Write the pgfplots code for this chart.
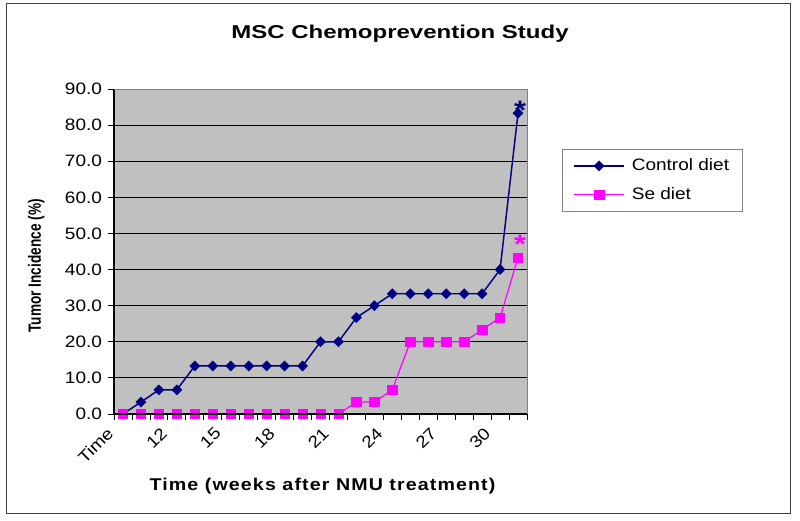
\documentclass[border=0pt]{standalone}
\usepackage{fontspec}
\setmainfont{Liberation Sans}[FakeStretch=1.15]
\newfontfamily\titlefont{Liberation Sans}[FakeStretch=1.29]
\newfontfamily\xlabfont{Liberation Sans}[FakeStretch=1.15,LetterSpace=6.5]
\newfontfamily\ylabfont{Liberation Sans}[FakeStretch=0.77]
\usepackage{pgfplots}
\pgfplotsset{compat=1.18}
\definecolor{navy}{RGB}{0,0,128}
\definecolor{se}{RGB}{255,0,255}
\definecolor{plotbg}{RGB}{192,192,192}
\definecolor{frame}{RGB}{128,128,128}

% n = 30 animals per group, index 0 = "Time", 1 = week 10 ... 22 = week 31
\pgfplotstableread{
i control se
0  0.0  0.0
1  3.3  0.0
2  6.7  0.0
3  6.7  0.0
4  13.3 0.0
5  13.3 0.0
6  13.3 0.0
7  13.3 0.0
8  13.3 0.0
9  13.3 0.0
10 13.3 0.0
11 20.0 0.0
12 20.0 0.0
13 26.7 3.3
14 30.0 3.3
15 33.3 6.7
16 33.3 20.0
17 33.3 20.0
18 33.3 20.0
19 33.3 20.0
20 33.3 23.3
21 40.0 26.7
22 83.3 43.3
}\incidence

\begin{document}
\begin{tikzpicture}
\useasboundingbox (0,0) rectangle (600pt,390.75pt);
\fill[white] (0,0) rectangle (600pt,390.75pt);
\draw[black!75, line width=0.75pt] (4.5pt,5.25pt) rectangle (592.5pt,387.75pt);
\begin{axis}[at={(85.5pt,80.25pt)}, anchor=south west,
  scale only axis, width=309.75pt, height=243.75pt,
  xmin=-0.5, xmax=22.5, ymin=0, ymax=90, clip=false,
  axis background/.style={fill=plotbg},
  axis line style={draw=frame, line width=0.75pt},
  ymajorgrids, major grid style={black, line width=0.6pt},
  ytick={0,10,...,90},
  xtick={-0.5,0.5,...,22.5}, xticklabels={},
  extra x ticks={0,3,6,9,12,15,18,21},
  extra x tick labels={Time,12,15,18,21,24,27,30},
  extra x tick style={major tick length=0pt, xmajorgrids=false,
    xticklabel style={anchor=east, rotate=45, xshift=-12pt, yshift=-2pt}},
  tick align=outside, xtick pos=left, ytick pos=left,
  major tick length=4.5pt,
  tick style={black, line width=0.6pt},
  ticklabel style={font=\fontsize{12.4}{14}\selectfont},
  /pgf/number format/fixed, /pgf/number format/fixed zerofill,
  /pgf/number format/precision=1, /pgf/number format/assume math mode=true,
  yticklabel style={xshift=-1pt},
  legend style={at={(1.085,0.8145)}, anchor=north west, draw=frame, fill=white,
    font=\fontsize{12.4}{14}\selectfont, row sep=7pt,
    inner xsep=8pt, inner ysep=5pt, cells={anchor=west},
    /tikz/every odd column/.append style={column sep=3pt}},
  legend image code/.code={\draw[mark repeat=2,mark phase=2,#1] plot coordinates {(0pt,0pt) (19pt,0pt) (38pt,0pt)};},
]
\addplot[navy, line width=1.1pt, mark=diamond*, mark size=3.75pt,
  mark options={xscale=1.33, solid, fill=navy, line width=0.4pt}]
  table[x=i, y=control] {\incidence};
\addlegendentry{Control diet}
\addplot[se, line width=0.9pt, mark=square*, mark size=3.5pt,
  mark options={solid, fill=se, line width=0.4pt}]
  table[x=i, y=se] {\incidence};
\addlegendentry{Se diet}
\node[navy, anchor=base, font=\fontsize{20}{20}\selectfont\bfseries, xshift=1.5pt, yshift=-4.5pt] at (axis cs:22,83.3) {*};
\node[se, anchor=base, font=\fontsize{20}{20}\selectfont\bfseries, xshift=1.5pt, yshift=3pt] at (axis cs:22,43.3) {*};
\end{axis}
\draw[black, line width=0.9pt] (85.5pt,323.25pt) -- (85.5pt,80.25pt) -- (395.25pt,80.25pt);
\node[anchor=base, font=\titlefont\bfseries\fontsize{13.95}{16}\selectfont] at (300pt,362pt) {MSC Chemoprevention Study};
\node[anchor=base, font=\xlabfont\bfseries\fontsize{12.8}{15}\selectfont] at (241.9pt,22.7pt) {Time (weeks after NMU treatment)};
\node[rotate=90, anchor=center, font=\ylabfont\bfseries\fontsize{13.3}{15}\selectfont] at (27.3pt,191.4pt) {Tumor Incidence (\%)};
\end{tikzpicture}
\end{document}
